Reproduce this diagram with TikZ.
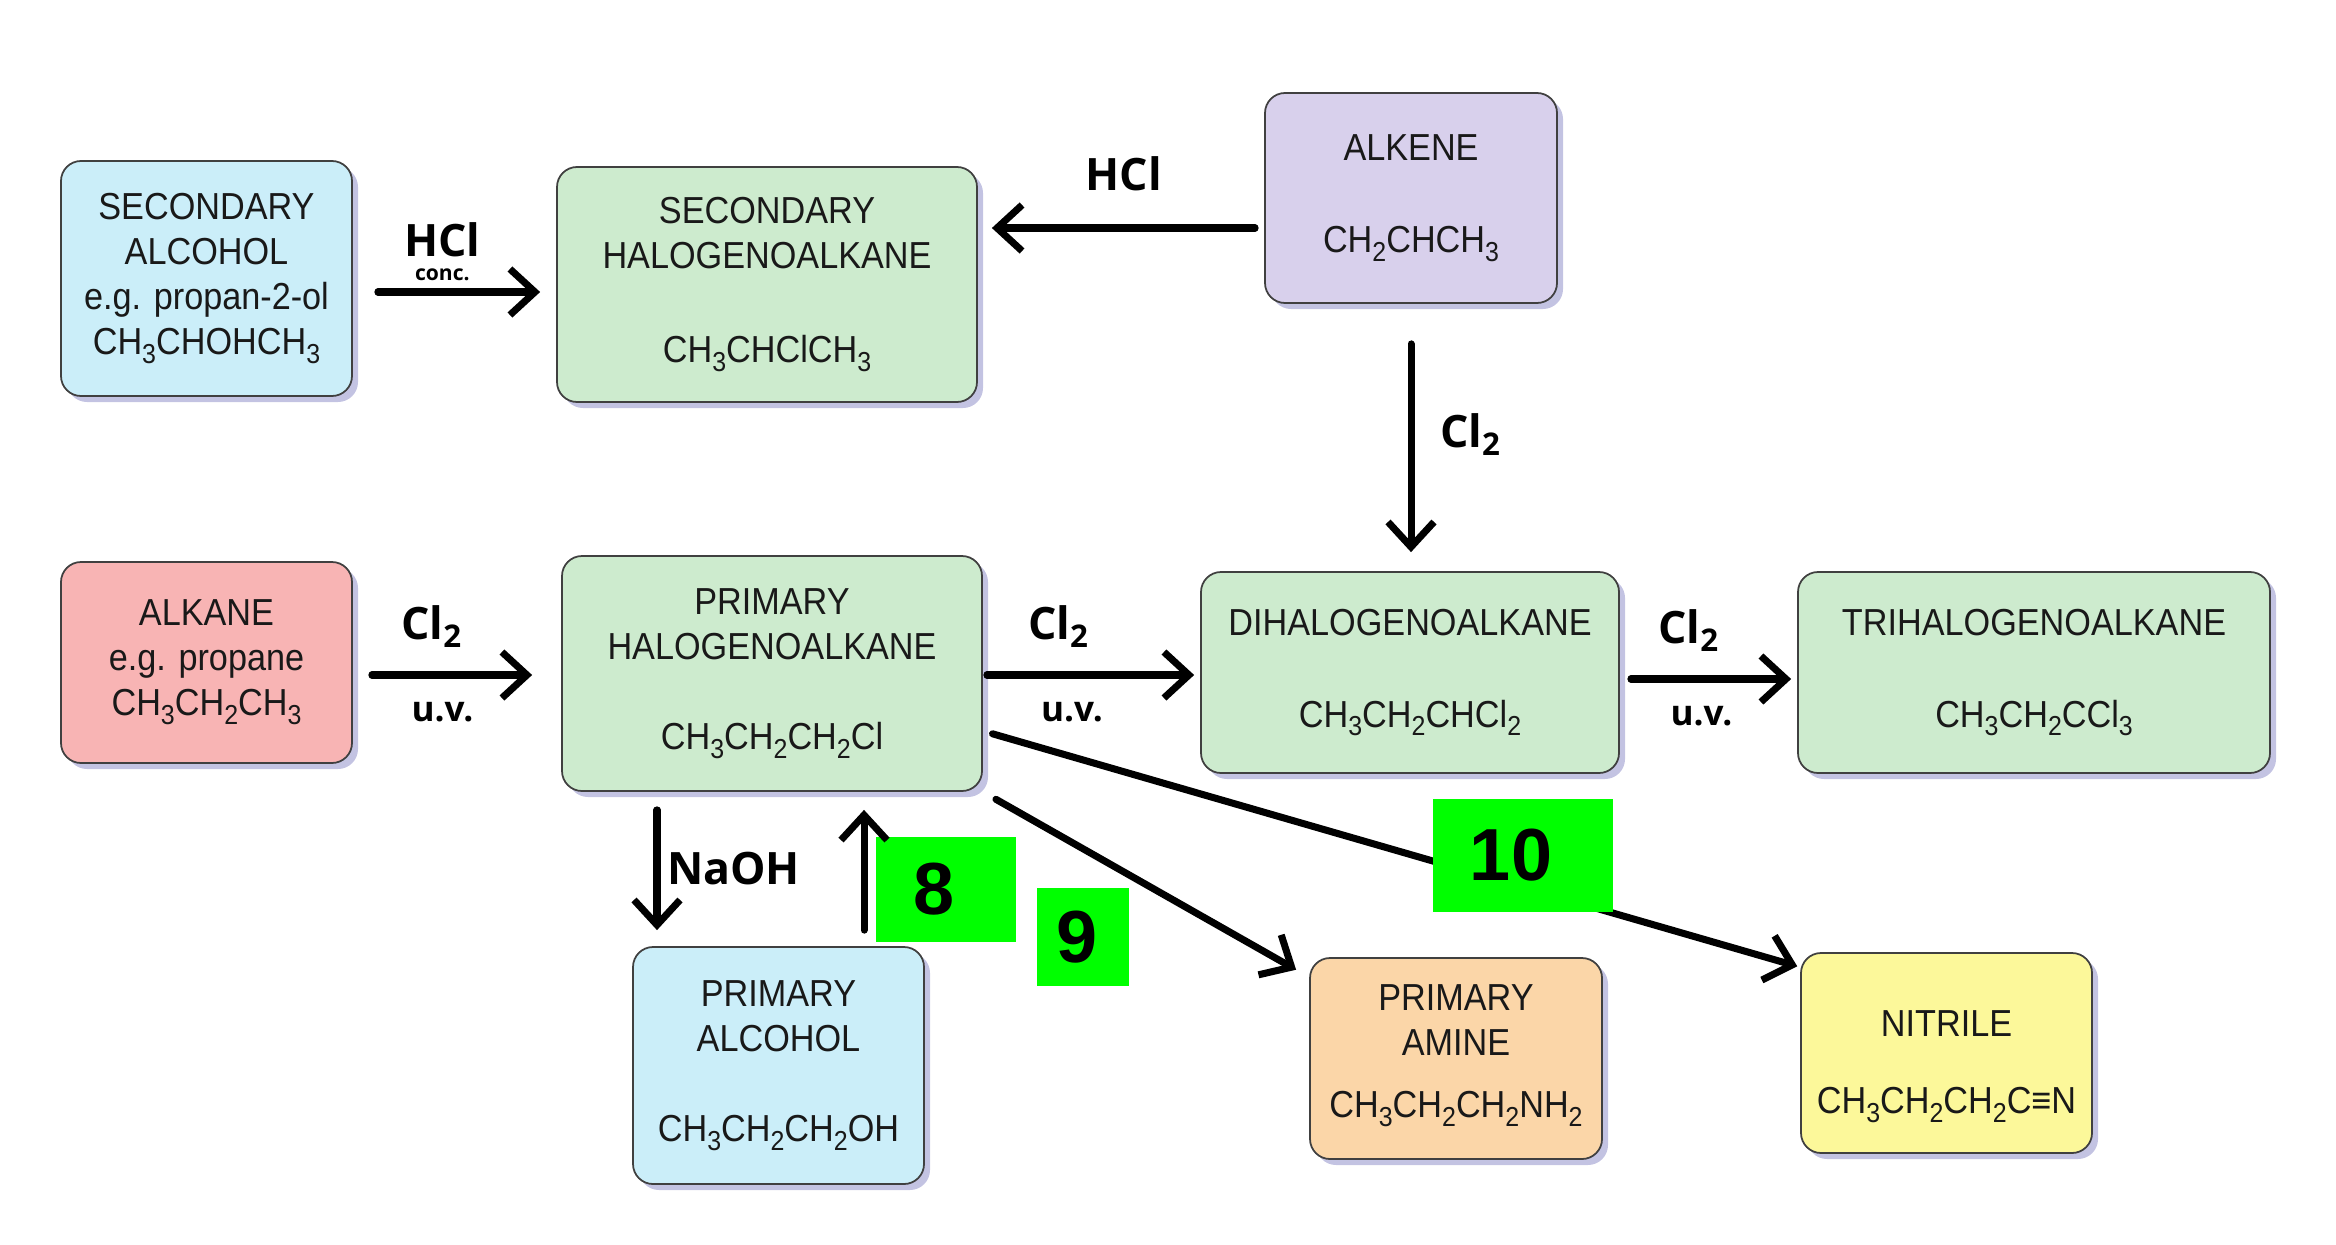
\documentclass[tikz,border=0pt]{standalone}
\usepackage{fontspec}
\setmainfont{Liberation Sans}[FakeStretch=0.91]
\newfontfamily\lblfont{Open Sans}
\newfontfamily\numfont{Liberation Sans}
\usetikzlibrary{arrows.meta,shadows,positioning}
\definecolor{alcblue}{HTML}{CBEEF9}
\definecolor{halgreen}{HTML}{CDEBCE}
\definecolor{enepurple}{HTML}{D8D0EC}
\definecolor{anepink}{HTML}{F8B4B4}
\definecolor{amorange}{HTML}{FBD6A8}
\definecolor{nityellow}{HTML}{FCF89A}
\definecolor{taggreen}{HTML}{00FF00}
\newcommand{\sbs}[1]{\raisebox{-2.5pt}{\fontsize{7.8}{8}\selectfont #1}}

\begin{document}
\begin{tikzpicture}[thick,line join=round]
    \tikzstyle{box}=[draw=black!75, line width=0.5pt, rounded corners=0.2cm, align=center, inner sep=0pt, text=black!90, font=\fontsize{10.7}{12.8}\selectfont, drop shadow={shadow xshift=0.6mm, shadow yshift=-0.6mm, fill=blue!35!gray, opacity=0.35}]
    \tikzstyle{tag}=[fill=taggreen, inner sep=0pt, font=\numfont\bfseries\fontsize{21}{21}\selectfont]
    \tikzstyle{arr}=[line width=2pt, line cap=round, -{Straight Barb[length=2.5mm,width=4.6mm]}]
    \tikzstyle{lbl}=[inner sep=1pt, align=center, font=\lblfont\bfseries\fontsize{12.7}{14}\selectfont]
    \tikzstyle{uv}=[inner sep=1pt, font=\lblfont\bfseries\fontsize{10}{12}\selectfont]

    \useasboundingbox (0,0) rectangle (23.36,-12.44);

    \node[box, fill=alcblue, minimum width=2.91cm, minimum height=2.35cm] (salc) at (2.065,-2.785)
      {SECONDARY\\ALCOHOL\\e.g. propan-2-ol\\CH\sbs{3}CHOHCH\sbs{3}};
    \node[box, fill=halgreen, minimum width=4.2cm, minimum height=2.35cm] (shal) at (7.67,-2.845)
      {SECONDARY\\HALOGENOALKANE\\[13.9pt]CH\sbs{3}CHClCH\sbs{3}};
    \node[box, fill=enepurple, minimum width=2.92cm, minimum height=2.1cm] (alkene) at (14.11,-1.98)
      {ALKENE\\[13.4pt]CH\sbs{2}CHCH\sbs{3}};
    \node[box, fill=anepink, minimum width=2.91cm, minimum height=2.01cm] (alkane) at (2.065,-6.625)
      {ALKANE\\e.g. propane\\CH\sbs{3}CH\sbs{2}CH\sbs{3}};
    \node[box, fill=halgreen, minimum width=4.2cm, minimum height=2.35cm] (phal) at (7.72,-6.735)
      {PRIMARY\\HALOGENOALKANE\\[13pt]CH\sbs{3}CH\sbs{2}CH\sbs{2}Cl};
    \node[box, fill=halgreen, minimum width=4.18cm, minimum height=2.01cm] (dihal) at (14.10,-6.725)
      {DIHALOGENOALKANE\\[13.4pt]CH\sbs{3}CH\sbs{2}CHCl\sbs{2}};
    \node[box, fill=halgreen, minimum width=4.72cm, minimum height=2.01cm] (trihal) at (20.34,-6.725)
      {TRIHALOGENOALKANE\\[13.4pt]CH\sbs{3}CH\sbs{2}CCl\sbs{3}};
    \node[box, fill=alcblue, minimum width=2.91cm, minimum height=2.37cm] (palc) at (7.785,-10.655)
      {PRIMARY\\ALCOHOL\\[13pt]CH\sbs{3}CH\sbs{2}CH\sbs{2}OH};
    \node[box, fill=amorange, minimum width=2.92cm, minimum height=2.01cm] (amine) at (14.56,-10.585)
      {PRIMARY\\AMINE\\[5pt]CH\sbs{3}CH\sbs{2}CH\sbs{2}NH\sbs{2}\\[-8.6pt]\mbox{}};
    \node[box, fill=nityellow, minimum width=2.91cm, minimum height=2cm] (nitrile) at (19.465,-10.53)
      {NITRILE\\[9pt]CH\sbs{3}CH\sbs{2}CH\sbs{2}C≡N\\[-17.9pt]\mbox{}};

    \node[tag, minimum width=1.4cm, minimum height=1.05cm] (n8) at (9.46,-8.895) {8\kern0.24cm};
    \node[tag, minimum width=0.92cm, minimum height=0.98cm] (n9) at (10.83,-9.37) {9\kern0.12cm};

    \draw[arr, shorten <=0.25cm, shorten >=0.16cm] (salc.east |- 0,-2.92) --
      node[lbl, pos=0.44, above=0.04cm] {HCl\\[-7pt]{\fontsize{6}{6}\selectfont conc.}} (shal.west |- 0,-2.92);
    \draw[arr, shorten <=0.09cm, shorten >=0.14cm] (alkene.west |- 0,-2.28) --
      node[lbl, pos=0.49, above=0.3cm] {HCl} (shal.east |- 0,-2.28);
    \draw[arr, shorten <=0.4cm, shorten >=0.19cm] (alkene.south) --
      node[lbl, pos=0.49, right=0.22cm] {Cl\textsubscript{2}} (alkene.south |- dihal.north);
    \draw[arr, shorten <=0.19cm, shorten >=0.29cm] (alkane.east |- 0,-6.75) --
      node[lbl, pos=0.38, above=0.2cm] {Cl\textsubscript{2}} node[uv, pos=0.43, below=0.2cm] {u.v.} (phal.west |- 0,-6.75);
    \draw[arr, shorten <=0.04cm, shorten >=0.06cm] (phal.east |- 0,-6.75) --
      node[lbl, pos=0.35, above=0.2cm] {Cl\textsubscript{2}} node[uv, pos=0.41, below=0.2cm] {u.v.} (dihal.west |- 0,-6.75);
    \draw[arr, shorten <=0.11cm, shorten >=0.06cm] (dihal.east |- 0,-6.79) --
      node[lbl, pos=0.39, above=0.2cm] {Cl\textsubscript{2}} node[uv, pos=0.46, below=0.2cm] {u.v.} (trihal.west |- 0,-6.79);
    \draw[arr, shorten <=0.18cm, shorten >=0.16cm] (6.57,0 |- phal.south) --
      node[lbl, right=0.03cm] {NaOH} (6.57,0 |- palc.north);
    \draw[arr, shorten <=0.16cm, shorten >=0.18cm] (8.64,0 |- palc.north) -- (8.64,0 |- phal.south);
    \draw[arr, shorten <=0.15cm, shorten >=0.15cm] (phal.south east) -- ([yshift=-2mm]amine.north west);
    \draw[arr, shorten <=0.1cm, shorten >=0.03cm] (phal.east |- 0,-7.31) -- ([yshift=-1.5mm]nitrile.north west);

    \node[tag, minimum width=1.8cm, minimum height=1.13cm] (n10) at (15.23,-8.555) {10\kern0.24cm};
\end{tikzpicture}
\end{document}
